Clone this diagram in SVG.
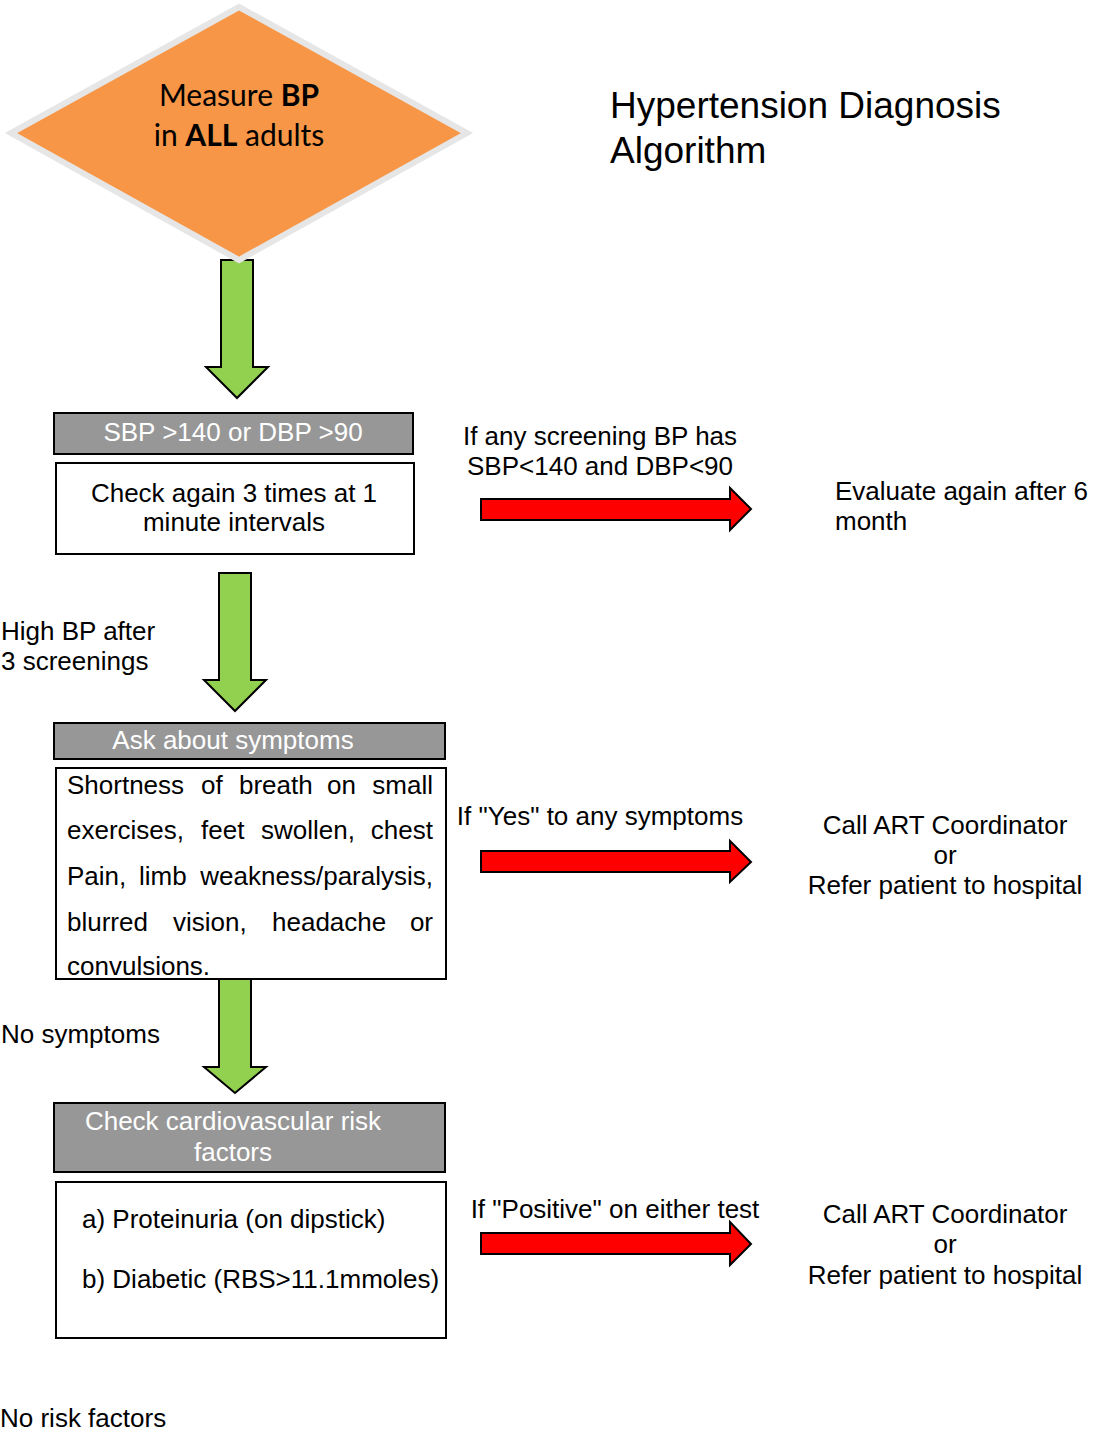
<svg xmlns="http://www.w3.org/2000/svg" width="1102" height="1431" viewBox="0 0 1102 1431">
<style>
  .t { font-family: "Liberation Sans", Arial, sans-serif; font-size: 26px; fill: #000; }
  .w { font-family: "Liberation Sans", Arial, sans-serif; font-size: 26px; fill: #fff; }
  .c { text-anchor: middle; }
  .e { text-anchor: end; }
  .title { font-family: "Liberation Sans", Arial, sans-serif; font-size: 37px; fill: #000; }
  .dia { font-family: Lato, "Open Sans", sans-serif; font-size: 30px; fill: #000; text-anchor: middle; }
  .hdr { fill: #979797; stroke: #000; stroke-width: 2; }
  .box { fill: #fff; stroke: #000; stroke-width: 2; }
  .green { fill: #92D050; stroke: #000; stroke-width: 2; stroke-linejoin: miter; }
  .red { fill: #FF0000; stroke: #000; stroke-width: 2; stroke-linejoin: miter; }
</style>
<rect width="1102" height="1431" fill="#fff"/>

<g id="connectors">
  <path class="green" d="M221,260 H253 V367 H268 L237,398 L206,367 H221 Z"/>
  <path class="green" d="M219,573 H251 V680 H266 L235,711 L204,680 H219 Z"/>
  <path class="green" d="M219,979 H251 V1067 H266 L235,1093 L204,1067 H219 Z"/>
  <path class="red" d="M481,499 H730 V488 L751,509 L730,530 V520 H481 Z"/>
  <path class="red" d="M481,851 H730 V841 L751,862 L730,882 V872 H481 Z"/>
  <path class="red" d="M481,1233 H730 V1222 L751,1244 L730,1265 V1254 H481 Z"/>
</g>

<g id="start">
  <polygon points="239,7 467,133 239,260 11,133" fill="#F79646" stroke="#E6E6E6" stroke-width="6" stroke-linejoin="miter"/>
  <text class="dia" x="239" y="106">Measure <tspan font-weight="bold">BP</tspan></text>
  <text class="dia" x="239" y="146">in <tspan font-weight="bold">ALL</tspan> adults</text>
</g>

<g id="title">
  <text class="title" x="610" y="118">Hypertension Diagnosis</text>
  <text class="title" x="610" y="163">Algorithm</text>
</g>

<g id="screen">
  <rect class="hdr" x="54" y="413" width="359" height="41"/>
  <text class="w c" x="233" y="441">SBP &gt;140 or DBP &gt;90</text>
  <rect class="box" x="56" y="463" width="358" height="91"/>
  <text class="t c" x="234" y="502">Check again 3 times at 1</text>
  <text class="t c" x="234" y="531">minute intervals</text>
</g>

<g id="label-normal">
  <text class="t c" x="600" y="445">If any screening BP has</text>
  <text class="t c" x="600" y="475">SBP&lt;140 and DBP&lt;90</text>
</g>

<g id="evaluate">
  <text class="t" x="835" y="500">Evaluate again after 6</text>
  <text class="t" x="835" y="530">month</text>
</g>

<g id="label-high">
  <text class="t" x="1" y="640">High BP after</text>
  <text class="t" x="1" y="670">3 screenings</text>
</g>

<g id="symptoms">
  <rect class="hdr" x="54" y="723" width="391" height="36"/>
  <text class="w c" x="233" y="749">Ask about symptoms</text>
  <rect class="box" x="56" y="768" width="390" height="211"/>
  <text class="t" y="794"><tspan x="67">Shortness</tspan><tspan x="201">of</tspan><tspan x="239">breath</tspan><tspan x="327">on</tspan></text>
  <text class="t e" x="433" y="794">small</text>
  <text class="t" y="839"><tspan x="67">exercises,</tspan><tspan x="201">feet</tspan><tspan x="261">swollen,</tspan></text>
  <text class="t e" x="433" y="839">chest</text>
  <text class="t" y="885"><tspan x="67">Pain,</tspan><tspan x="139">limb</tspan></text>
  <text class="t e" x="433" y="885">weakness/paralysis,</text>
  <text class="t" y="931"><tspan x="67">blurred</tspan><tspan x="173">vision,</tspan><tspan x="272">headache</tspan></text>
  <text class="t e" x="433" y="931">or</text>
  <text class="t" x="67" y="975">convulsions.</text>
</g>

<g id="label-yes">
  <text class="t c" x="600" y="825">If "Yes" to any symptoms</text>
</g>

<g id="refer1">
  <text class="t c" x="945" y="834">Call ART Coordinator</text>
  <text class="t c" x="945" y="864">or</text>
  <text class="t c" x="945" y="894">Refer patient to hospital</text>
</g>

<g id="label-nosym">
  <text class="t" x="1" y="1043">No symptoms</text>
</g>

<g id="risk">
  <rect class="hdr" x="54" y="1103" width="391" height="69"/>
  <text class="w c" x="233" y="1130">Check cardiovascular risk</text>
  <text class="w c" x="233" y="1161">factors</text>
  <rect class="box" x="56" y="1182" width="390" height="156"/>
  <text class="t" x="82" y="1228">a) Proteinuria (on dipstick)</text>
  <text class="t" x="82" y="1288">b) Diabetic (RBS&gt;11.1mmoles)</text>
</g>

<g id="label-positive">
  <text class="t c" x="615" y="1218">If "Positive" on either test</text>
</g>

<g id="refer2">
  <text class="t c" x="945" y="1223">Call ART Coordinator</text>
  <text class="t c" x="945" y="1253">or</text>
  <text class="t c" x="945" y="1284">Refer patient to hospital</text>
</g>

<g id="label-norisk">
  <text class="t" x="0" y="1427">No risk factors</text>
</g>
</svg>
